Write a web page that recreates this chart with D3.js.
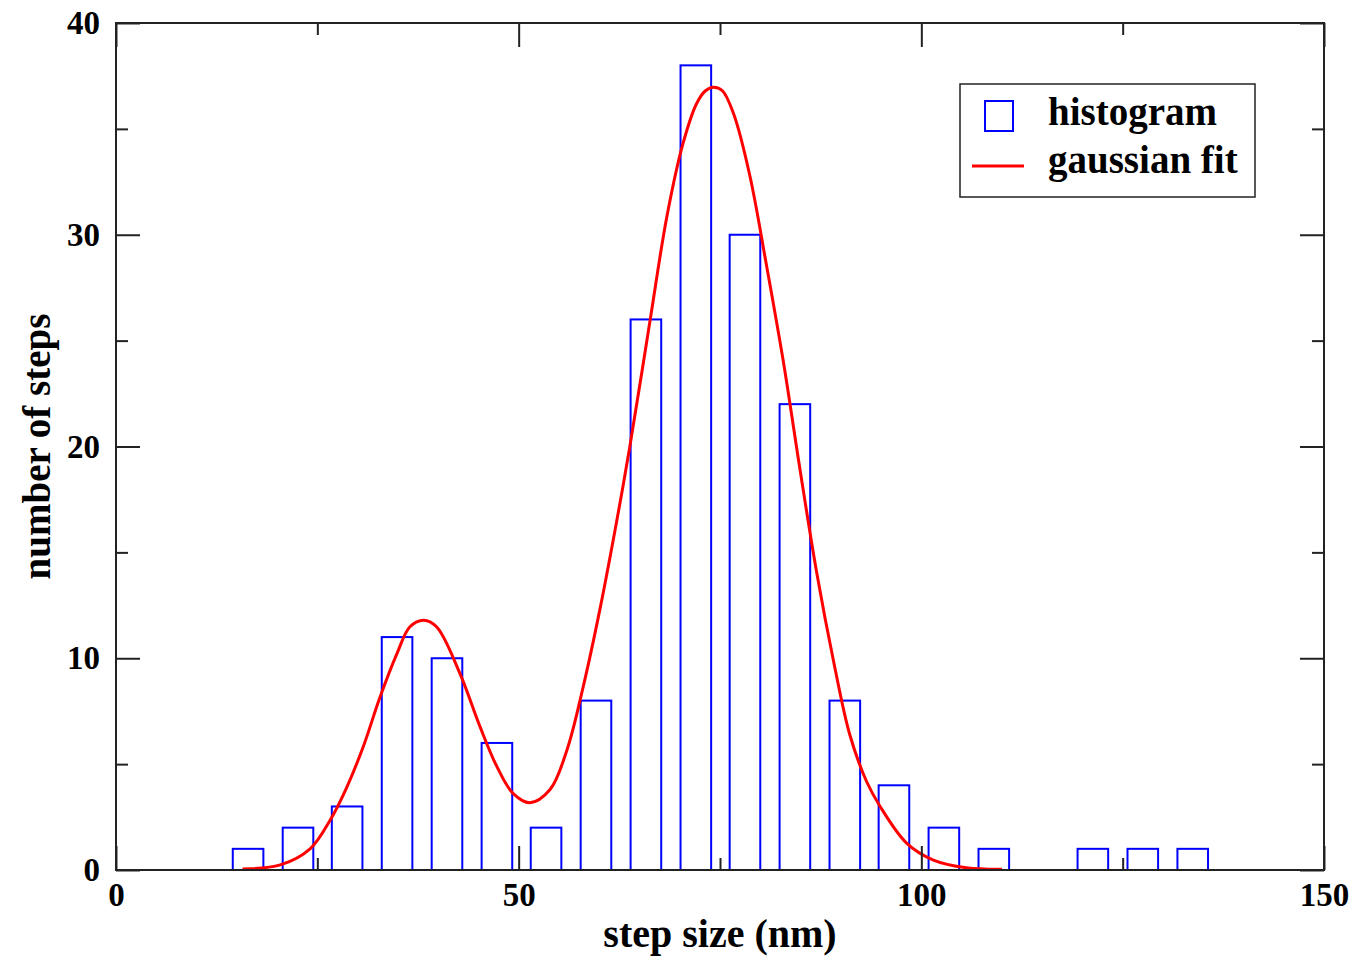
<!DOCTYPE html>
<html>
<head>
<meta charset="utf-8">
<script src="https://cdn.jsdelivr.net/npm/d3@7"></script>
<style>
  body { margin: 0; background: #fff; }
  svg { display: block; }
  text { font-family: "Liberation Serif", "Times New Roman", serif; font-weight: bold; }
</style>
</head>
<body>
<svg></svg>
<script>
// histogram bins (bin centre in nm) and counts
const binCenters = [16.4, 22.6, 28.7, 34.9, 41.1, 47.3, 53.4, 59.6, 65.8, 72.0,
    78.1, 84.3, 90.5, 96.6, 102.8, 109.0, 115.2, 121.3, 127.5, 133.7];
const binCounts = [1, 2, 3, 11, 10, 6, 2, 8, 26, 38, 30, 22, 8, 4, 2, 1, 0, 1, 1, 1];

// gaussian fit curve
const fitX = [15.7, 20.4, 24.1, 26.6, 28.6, 30.7, 32.8, 34.9, 36.5, 38.2, 39.8, 42.7,
    45.2, 47.3, 49.3, 51.4, 53.9, 56.0, 58.0, 60.1, 62.2, 63.8, 66.3, 68.4, 70.4,
    72.1, 73.2, 74.2, 75.3, 76.7, 78.7, 80.8, 82.9, 84.9, 87.0, 89.1, 91.1, 93.2, 94.9,
    98.2, 101.5, 105.6, 110.0];
const fitY = [0.05, 0.24, 1.0, 2.36, 3.86, 5.82, 8.18, 10.23, 11.49, 11.8, 11.49, 9.29,
    6.77, 4.88, 3.62, 3.18, 3.8, 5.67, 8.63, 12.33, 16.53, 19.99, 25.91, 30.85, 34.3,
    36.2, 36.8, 36.97, 36.8, 35.7, 32.8, 28.5, 23.93, 19.0, 14.06, 9.86, 6.41, 4.18, 2.99,
    1.26, 0.47, 0.11, 0.04];

const xTicks = [0, 50, 100, 150];
const xMinorTicks = [25, 75, 125];
const yTicks = [0, 10, 20, 30, 40];
const yMinorTicks = [5, 15, 25, 35];

const legendLabels = ['histogram', 'gaussian fit'];

const svgWidth = 1357;
const svgHeight = 962;
const margin = { top: 23, right: 33, bottom: 92, left: 116 };
const width = svgWidth - margin.left - margin.right;
const height = svgHeight - margin.top - margin.bottom;
const barWidth = 3.8; // in nm

const svg = d3.select('svg')
    .attr('width', svgWidth)
    .attr('height', svgHeight)
    .append('g')
    .attr('transform', `translate(${margin.left}, ${margin.top})`);

const xScale = d3.scaleLinear().domain([0, 150]).range([0, width]);
const yScale = d3.scaleLinear().domain([0, 40]).range([height, 0]);

// bars
const bins = binCenters.map((c, i) => ({ c: c, n: binCounts[i] })).filter(d => d.n > 0);
svg.selectAll('.bar')
    .data(bins)
    .enter().append('rect')
    .attr('class', 'bar')
    .attr('x', d => xScale(d.c - barWidth / 2))
    .attr('width', d => xScale(d.c + barWidth / 2) - xScale(d.c - barWidth / 2))
    .attr('y', d => yScale(d.n))
    .attr('height', d => yScale(0) - yScale(d.n))
    .attr('fill', 'none')
    .attr('stroke', '#0000ff')
    .attr('stroke-width', 2);

// fit curve
const fit = fitX.map((x, i) => [x, fitY[i]]);
const line = d3.line()
    .x(d => xScale(d[0]))
    .y(d => yScale(d[1]))
    .curve(d3.curveCatmullRom);

svg.append('path')
    .datum(fit)
    .attr('fill', 'none')
    .attr('stroke', '#ff0000')
    .attr('stroke-width', 3)
    .attr('d', line);

// axes, ticks inward on all four sides
function styleAxis(g) {
    g.select('.domain').remove();
    g.selectAll('line').attr('stroke', '#222').attr('stroke-width', 2);
    g.selectAll('text')
        .attr('fill', '#000')
        .style('font-size', '33px')
        .style('font-family', '"Liberation Serif", "Times New Roman", serif')
        .style('font-weight', 'bold');
}

svg.append('g')
    .attr('transform', `translate(0, ${height})`)
    .call(d3.axisBottom(xScale).tickValues(xTicks).tickSizeInner(-24).tickSizeOuter(0).tickPadding(13))
    .call(styleAxis);
svg.append('g')
    .attr('transform', `translate(0, ${height})`)
    .call(d3.axisBottom(xScale).tickValues(xMinorTicks).tickFormat('').tickSizeInner(-12).tickSizeOuter(0))
    .call(styleAxis);
svg.append('g')
    .call(d3.axisTop(xScale).tickValues(xTicks).tickFormat('').tickSizeInner(-24).tickSizeOuter(0))
    .call(styleAxis);
svg.append('g')
    .call(d3.axisTop(xScale).tickValues(xMinorTicks).tickFormat('').tickSizeInner(-12).tickSizeOuter(0))
    .call(styleAxis);

svg.append('g')
    .call(d3.axisLeft(yScale).tickValues(yTicks).tickSizeInner(-24).tickSizeOuter(0).tickPadding(16))
    .call(styleAxis);
svg.append('g')
    .call(d3.axisLeft(yScale).tickValues(yMinorTicks).tickFormat('').tickSizeInner(-12).tickSizeOuter(0))
    .call(styleAxis);
svg.append('g')
    .attr('transform', `translate(${width}, 0)`)
    .call(d3.axisRight(yScale).tickValues(yTicks).tickFormat('').tickSizeInner(-24).tickSizeOuter(0))
    .call(styleAxis);
svg.append('g')
    .attr('transform', `translate(${width}, 0)`)
    .call(d3.axisRight(yScale).tickValues(yMinorTicks).tickFormat('').tickSizeInner(-12).tickSizeOuter(0))
    .call(styleAxis);

// frame
svg.append('rect')
    .attr('width', width)
    .attr('height', height)
    .attr('fill', 'none')
    .attr('stroke', '#222')
    .attr('stroke-width', 2);

// axis titles
svg.append('text')
    .attr('x', width / 2)
    .attr('y', height + 77)
    .attr('text-anchor', 'middle')
    .attr('font-size', '40px')
    .text('step size (nm)');

svg.append('text')
    .attr('transform', 'rotate(-90)')
    .attr('x', -height / 2)
    .attr('y', -66)
    .attr('text-anchor', 'middle')
    .attr('font-size', '39px')
    .text('number of steps');

// legend
const legend = svg.append('g')
    .attr('transform', `translate(${960 - margin.left}, ${84 - margin.top})`);

legend.append('rect')
    .attr('width', 295)
    .attr('height', 113)
    .attr('fill', '#fff')
    .attr('stroke', '#222')
    .attr('stroke-width', 1.5);

legend.append('rect')
    .attr('x', 25)
    .attr('y', 17)
    .attr('width', 28)
    .attr('height', 30)
    .attr('fill', 'none')
    .attr('stroke', '#0000ff')
    .attr('stroke-width', 2);

legend.append('line')
    .attr('x1', 12)
    .attr('x2', 64)
    .attr('y1', 82)
    .attr('y2', 82)
    .attr('stroke', '#ff0000')
    .attr('stroke-width', 3);

legend.selectAll('.ltext')
    .data(legendLabels)
    .enter().append('text')
    .attr('class', 'ltext')
    .attr('x', 88)
    .attr('y', (d, i) => 41 + i * 48)
    .attr('font-size', '39px')
    .attr('fill', '#000')
    .text(d => d);
</script>
</body>
</html>
